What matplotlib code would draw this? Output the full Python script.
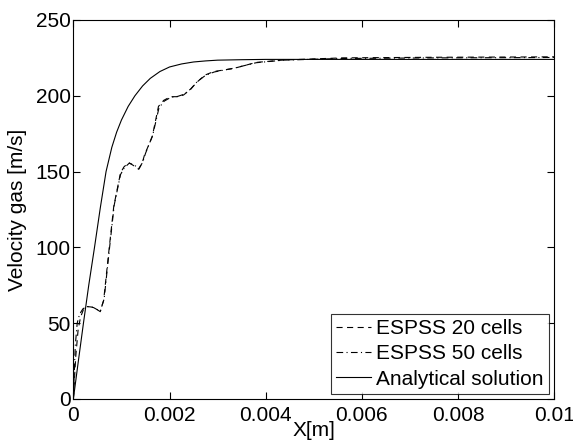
import numpy as np
import matplotlib.pyplot as plt

plt.rcParams["font.family"] = ["Liberation Sans", "DejaVu Sans"]

# values
x_20 = [0, 0.00005, 0.0001, 0.00015, 0.00021, 0.00028, 0.00042, 0.00056,
        0.00060, 0.00063, 0.00073, 0.00084, 0.00098, 0.00105, 0.00115,
        0.00125, 0.00136, 0.00143, 0.00148, 0.00164, 0.00177, 0.00188,
        0.00202, 0.00216, 0.00229, 0.00243, 0.00257, 0.00274, 0.00292,
        0.00333, 0.0038, 0.00437, 0.0049, 0.0056, 0.0065, 0.0075, 0.0085,
        0.0095, 0.01]
v_20 = [0, 28, 46, 54, 59, 61, 60.5, 57.6,
        62, 65, 95, 127, 149, 153, 156,
        154, 151.5, 155.5, 161, 173, 193, 197,
        199.4, 199.4, 200.5, 204, 209, 213.7, 216,
        218, 222, 223.6, 224.2, 225, 225.2, 225.4, 225.5,
        225.6, 225.7]

x_50 = [0, 0.00004, 0.00008, 0.00013, 0.0002, 0.00028, 0.00042, 0.00056,
        0.00060, 0.00064, 0.00074, 0.00085, 0.00098, 0.00106, 0.00116,
        0.00126, 0.00136, 0.00144, 0.0015, 0.00165, 0.00178, 0.00189,
        0.00203, 0.00217, 0.0023, 0.00244, 0.00258, 0.00275, 0.00293,
        0.00335, 0.0038, 0.00437, 0.0049, 0.0056, 0.0065, 0.0075, 0.0085,
        0.0095, 0.01]
v_50 = [0, 35, 50, 56, 59.5, 61, 60.3, 57.8,
        62, 66, 96, 128, 148, 152.5, 155.5,
        154.5, 152, 156, 162, 174, 192, 196.5,
        199, 199.6, 201, 204.5, 209.5, 213.5, 215.7,
        218.3, 221.8, 223.5, 224, 224.6, 224.8, 225, 225.1,
        225.2, 225.3]

x_an = [0, 0.0001, 0.00021, 0.00032, 0.00044, 0.00056, 0.00068, 0.0008,
        0.0009, 0.001, 0.00114, 0.00128, 0.00144, 0.0016, 0.0018, 0.002,
        0.00225, 0.0025, 0.00275, 0.003, 0.0035, 0.004, 0.005, 0.006,
        0.008, 0.01]
v_an = [0, 24, 50, 75, 100, 126, 150, 166,
        176, 184, 193, 200, 206.5, 211.5, 216, 219,
        221, 222.3, 223, 223.5, 223.8, 224, 224, 224,
        224, 224]

fig = plt.figure(figsize=(5.73, 4.46), dpi=100)
ax = fig.add_axes([0.128, 0.1054, 0.8394, 0.8498])

ax.plot(x_20, v_20, "--", color="black", lw=0.8, dashes=(5.5, 4),
        label="ESPSS 20 cells")
ax.plot(x_50, v_50, "-.", color="black", lw=0.8, dashes=(6, 3, 1, 3),
        label="ESPSS 50 cells")
ax.plot(x_an, v_an, "-", color="black", lw=0.8, label="Analytical solution")

ax.set_xlim(0, 0.01)
ax.set_ylim(0, 250)
ax.set_xticks([0, 0.002, 0.004, 0.006, 0.008, 0.01])
ax.set_xticklabels(["0", "0.002", "0.004", "0.006", "0.008", "0.01"])
ax.set_yticks([0, 50, 100, 150, 200, 250])
ax.tick_params(direction="in", top=True, right=True, length=5,
               labelsize=15)
ax.tick_params(axis="x", pad=5)
ax.tick_params(axis="y", pad=2)
ax.set_xlabel("X[m]", fontsize=15, labelpad=-3)
ax.set_ylabel("Velocity gas [m/s]", fontsize=15, labelpad=6)

leg = ax.legend(loc="lower right", fontsize=15, frameon=True, fancybox=False,
                edgecolor="black", handlelength=1.7, handletextpad=0.25,
                borderpad=0.25, labelspacing=0.3, borderaxespad=0.25)
leg.get_frame().set_linewidth(0.8)

fig.savefig("out.png", dpi=100)
